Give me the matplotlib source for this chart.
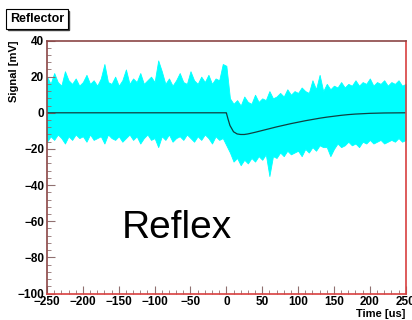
import numpy as np
import matplotlib
matplotlib.use('Agg')
from matplotlib import pyplot as plt
from matplotlib.ticker import MultipleLocator

# Time axis of the envelope / mean trace [us]
t = np.arange(-250, 251, 5)

# Upper edge of the cyan noise band [mV]
upper = [20, 16, 22, 17, 15, 23, 18, 16, 19, 15,
         17, 21, 16, 18, 15, 19, 27, 17, 16, 20,
         15, 18, 24, 16, 19, 17, 22, 16, 18, 20,
         17, 29, 23, 16, 19, 15, 18, 22, 17, 16,
         23, 18, 16, 20, 17, 21, 16, 19, 18, 27,
         26, 8, 5, 7, 4, 9, 6, 5, 10, 6,
         8, 7, 12, 8, 9, 11, 9, 13, 10, 12,
         11, 14, 12, 11, 18, 13, 21, 12, 16, 13,
         15, 14, 17, 14, 16, 15, 18, 15, 17, 16,
         19, 15, 17, 16, 18, 15, 17, 16, 18, 15, 16]

# Lower edge of the cyan noise band [mV]
lower = [-16, -13, -15, -12, -14, -17, -13, -15, -12, -14,
         -13, -16, -12, -15, -14, -13, -17, -12, -14, -15,
         -13, -16, -14, -12, -15, -13, -17, -14, -12, -15,
         -14, -19, -13, -15, -12, -16, -14, -13, -15, -12,
         -14, -16, -13, -15, -12, -14, -17, -13, -15, -14,
         -18, -22, -27, -25, -29, -26, -28, -25, -27, -24,
         -26, -23, -35, -24, -25, -22, -24, -21, -23, -22,
         -21, -24, -20, -22, -19, -21, -18, -19, -19, -24,
         -20, -17, -19, -18, -16, -18, -17, -19, -16, -17,
         -15, -17, -16, -15, -17, -16, -15, -16, -14, -16, -15]

# Averaged signal (black line)
t_mean = [-250, -1, 0, 2, 5, 10, 15, 20, 25, 30, 40, 50, 60, 70, 80, 90, 100,
          110, 120, 130, 140, 150, 160, 170, 180, 190, 200, 220, 250]
v_mean = [0, 0, 0, -3, -7, -10.5, -11.7, -12, -12, -11.7, -10.8, -9.8, -8.8,
          -7.8, -6.9, -6.0, -5.2, -4.4, -3.7, -3.0, -2.4, -1.9, -1.4, -1.0,
          -0.7, -0.5, -0.3, -0.1, 0]

plt.rcParams['font.family'] = ['Liberation Sans', 'DejaVu Sans']

fig = plt.figure(figsize=(4.12, 3.2), dpi=100)
ax = fig.add_axes([0.1141, 0.0828, 0.8706, 0.7906])

ax.fill_between(t, lower, upper, color='#00ffff', linewidth=0.6, edgecolor='#00ffff')
ax.plot(t_mean, v_mean, color='#104040', linewidth=0.9)

ax.set_xlim(-250, 250)
ax.set_ylim(-100, 40)
ax.xaxis.set_major_locator(MultipleLocator(50))
ax.xaxis.set_minor_locator(MultipleLocator(10))
ax.yaxis.set_major_locator(MultipleLocator(20))
ax.yaxis.set_minor_locator(MultipleLocator(4))
ax.tick_params(which='both', direction='in', colors='#907070', labelcolor='black',
               labelsize=8.5, pad=2)
ax.tick_params(which='major', length=6)
ax.tick_params(which='minor', length=3)
for lab in ax.get_xticklabels() + ax.get_yticklabels():
    lab.set_fontweight('bold')

ax.spines['top'].set_color('#8b4545')
ax.spines['left'].set_color('#8b4545')
ax.spines['right'].set_color('#d84040')
ax.spines['bottom'].set_color('#d84040')
for s in ax.spines.values():
    s.set_linewidth(1.2)

fig.text(0.984, 0.004, 'Time [us]', ha='right', va='bottom', fontsize=8, fontweight='bold')
fig.text(0.035, 0.875, 'Signal [mV]', ha='center', va='top', rotation=90,
         fontsize=8, fontweight='bold')

# title box with a ROOT-like shadow
fig.text(0.024, 0.94, 'Reflector', ha='left', va='center', fontsize=9, fontweight='bold',
         bbox=dict(boxstyle='square,pad=0.3', facecolor='#404040', edgecolor='#404040',
                   linewidth=1), color='none', transform=fig.transFigure + matplotlib.transforms.ScaledTranslation(1.5/100, -1.5/100, fig.dpi_scale_trans))
fig.text(0.024, 0.94, 'Reflector', ha='left', va='center', fontsize=9, fontweight='bold',
         bbox=dict(boxstyle='square,pad=0.3', facecolor='white', edgecolor='black', linewidth=0.8))

fig.text(0.295, 0.257, 'Reflex', ha='left', va='baseline', fontsize=28)

fig.savefig('out.png', dpi=100)
